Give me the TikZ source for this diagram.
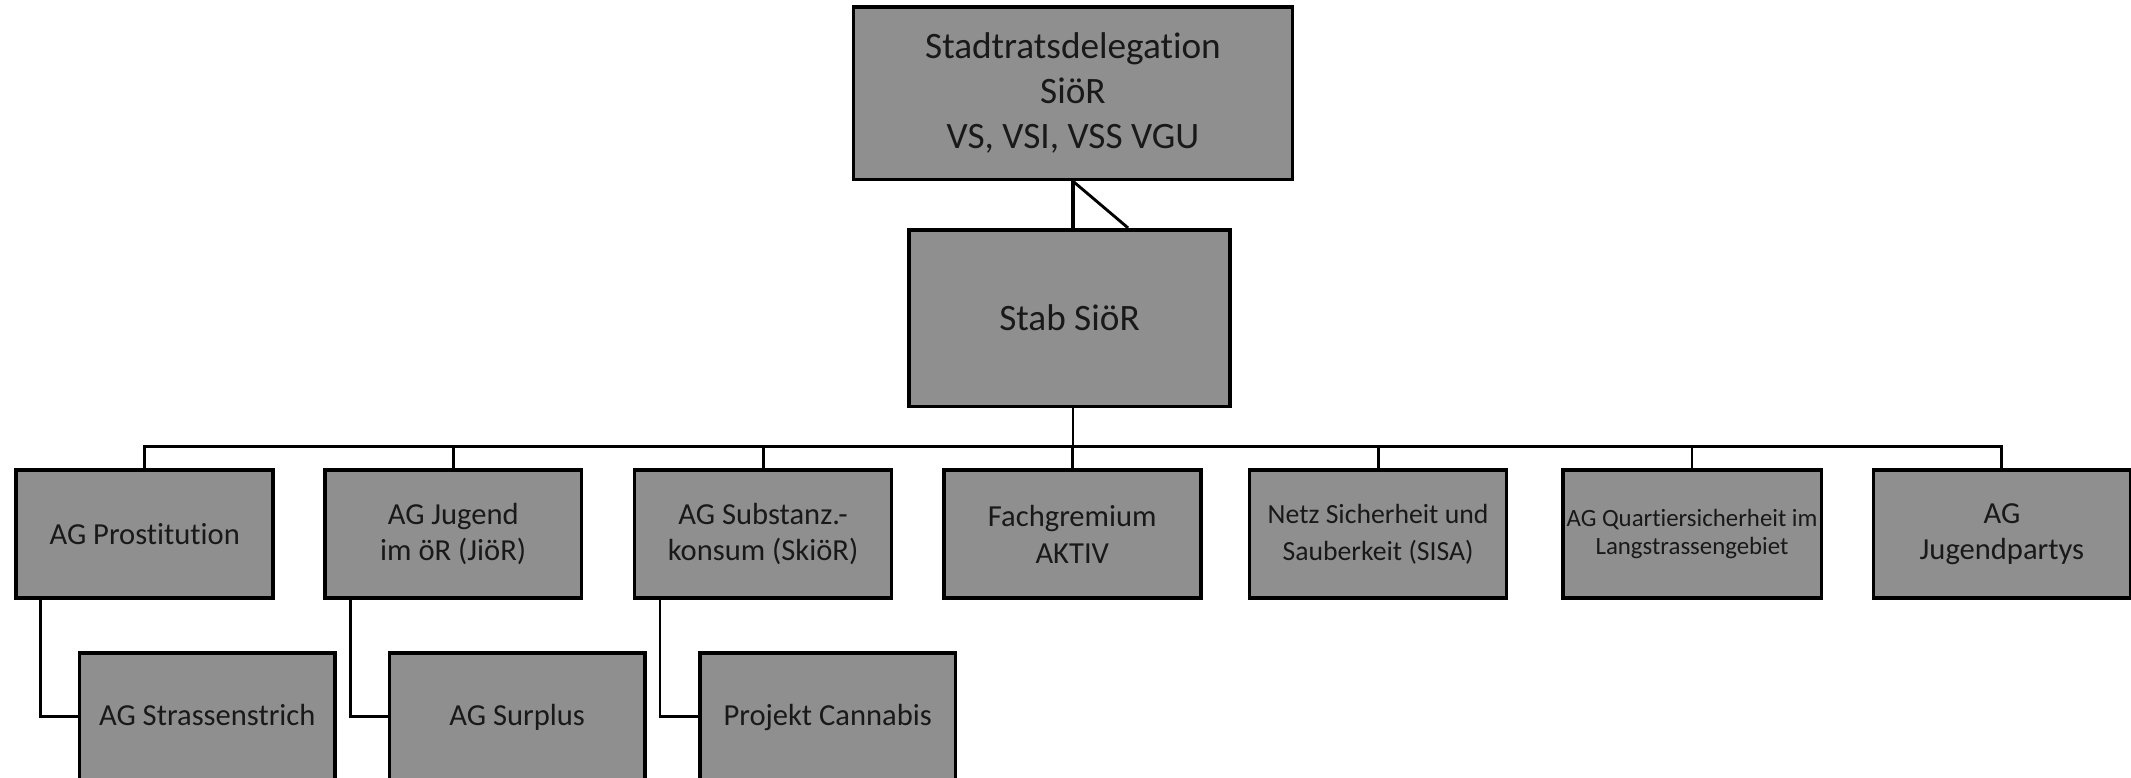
\documentclass[tikz,border=0pt]{standalone}
\usepackage{fontspec}
\setmainfont{Carlito}[Ligatures=NoCommon]
\usepackage{xcolor}
\usepackage{tikz}
\definecolor{cajagris}{RGB}{143,143,143}
\tikzset{
  caja/.style={draw=black, line width=1.9pt, fill=cajagris, text=black!90, align=center,
    inner sep=2pt, minimum width=47.25mm, minimum height=23.5mm,
    font=\fontsize{16}{19.2}\selectfont},
  grande/.style={font=\fontsize{19.5}{23.5}\selectfont},
  chica/.style={font=\fontsize{14.5}{19.2}\selectfont},
  mini/.style={font=\fontsize{13}{15}\selectfont},
  % cajas cortadas por el borde inferior
  corte/.style={anchor=north, minimum width=47mm, text height=36pt, text depth=42pt},
  enlace/.style={draw=black, line width=1.5pt},
}

\begin{document}
\begin{tikzpicture}[x=0.25mm, y=-0.25mm]
		% marco de la imagen
		\useasboundingbox (0,0) rectangle (1568,572);
		\clip (0,0) rectangle (1568,572);
		
		% nivel superior
		\node[caja, grande, minimum width=80.75mm, minimum height=31.75mm] (deleg) at (789.5,68.5)
			{Stadtratsdelegation\\SiöR\\VS, VSI, VSS VGU};
		\node[caja, grande, minimum width=59mm, minimum height=32.5mm] (stab) at (787,234) {Stab SiöR};
		
		% primera fila de grupos
		\node[caja] (prost) at (106.5,393) {AG Prostitution};
		\node[caja] (jugend) at (333.5,393) {AG Jugend\\im öR (JiöR)};
		\node[caja] (subst) at (561.5,393) {AG Substanz.-\\konsum (SkiöR)};
		\node[caja] (aktiv) at (789,393) {Fachgremium\\AKTIV};
		\node[caja, chica] (sisa) at (1014,393) {Netz Sicherheit und\\Sauberkeit (SISA)};
		\node[caja, mini] (quart) at (1245,393) {AG Quartiersicherheit im\\Langstrassengebiet};
		\node[caja] (party) at (1473,393) {AG\\Jugendpartys};
		
		% segunda fila
		\node[caja, corte] (strich) at (152.5,479) {AG Strassenstrich};
		\node[caja, corte] (surplus) at (380.5,479) {AG Surplus};
		\node[caja, corte] (cannabis) at (609,479) {Projekt Cannabis};
		
		% conexiones
		\draw[enlace, line width=1.9pt] (deleg.south) -- (deleg.south |- stab.north);
		\draw[enlace] (deleg.south) -- ([xshift=10.75mm]stab.north);
		\foreach \g in {prost,jugend,subst,aktiv,sisa,quart,party} {
			\draw[enlace] (deleg.south |- stab.south) -- ++(0,28) -| (\g.north);
		}
		\draw[enlace] ([xshift=4.75mm]prost.south west) |- (strich.west |- 0,527);
		\draw[enlace] ([xshift=5mm]jugend.south west) |- (surplus.west |- 0,527);
		\draw[enlace] ([xshift=5mm]subst.south west) |- (cannabis.west |- 0,527);
	\end{tikzpicture}
\end{document}
